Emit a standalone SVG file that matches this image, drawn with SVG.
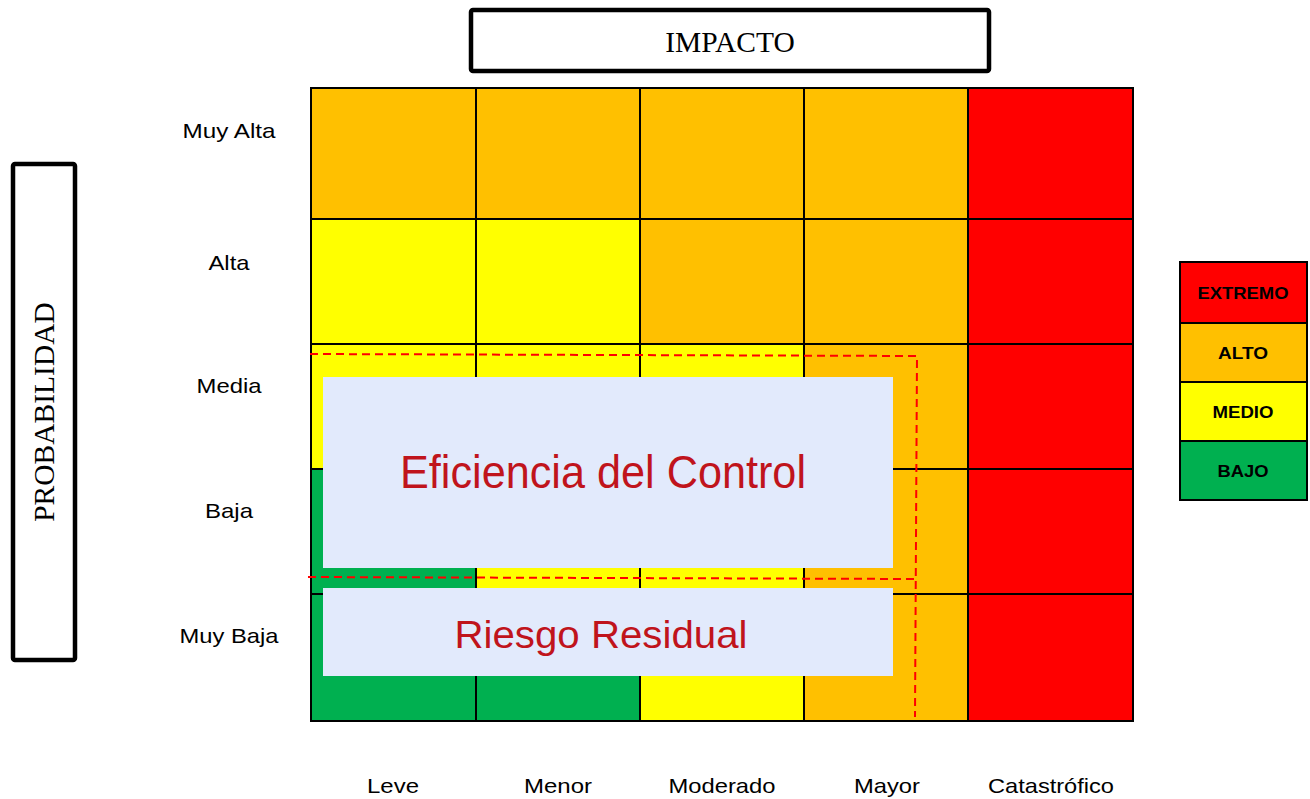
<svg xmlns="http://www.w3.org/2000/svg" width="1310" height="799" viewBox="0 0 1310 799">
<style>
.o{fill:#FFC000}.y{fill:#FFFF00}.r{fill:#FF0000}.g{fill:#00B050}
.gl{stroke:#000;stroke-width:2;fill:none}
.lbl{font-family:"Liberation Sans",Arial,sans-serif;font-size:21px;fill:#000;text-anchor:middle}
.leg{font-family:"Liberation Sans",Arial,sans-serif;font-size:16.5px;font-weight:bold;fill:#000;text-anchor:middle}
.ttl{font-family:"Liberation Serif","Times New Roman",serif;font-size:29.5px;fill:#000;text-anchor:middle}
.ov{fill:#E2EAFC}
.ovt{font-family:"Liberation Sans",Arial,sans-serif;fill:#C0141C;text-anchor:middle}
.dash{stroke:#FF0000;stroke-width:2;fill:none;stroke-dasharray:8 5}
</style>
<rect width="1310" height="799" fill="#fff"/>
<g id="impacto">
<rect x="471" y="10" width="518" height="61" rx="2" fill="#fff" stroke="#000" stroke-width="4.5"/>
<text class="ttl" x="730" y="52">IMPACTO</text>
</g>
<g id="probabilidad">
<rect x="13" y="164" width="62" height="496" rx="2" fill="#fff" stroke="#000" stroke-width="4.5"/>
<text class="ttl" transform="translate(54,412) rotate(-90)" x="0" y="0">PROBABILIDAD</text>
</g>
<g id="matrix">
<rect class="o" x="311" y="88" width="165" height="131"/>
<rect class="o" x="476" y="88" width="164" height="131"/>
<rect class="o" x="640" y="88" width="164" height="131"/>
<rect class="o" x="804" y="88" width="164" height="131"/>
<rect class="r" x="968" y="88" width="165" height="131"/>
<rect class="y" x="311" y="219" width="165" height="125"/>
<rect class="y" x="476" y="219" width="164" height="125"/>
<rect class="o" x="640" y="219" width="164" height="125"/>
<rect class="o" x="804" y="219" width="164" height="125"/>
<rect class="r" x="968" y="219" width="165" height="125"/>
<rect class="y" x="311" y="344" width="165" height="125"/>
<rect class="y" x="476" y="344" width="164" height="125"/>
<rect class="y" x="640" y="344" width="164" height="125"/>
<rect class="o" x="804" y="344" width="164" height="125"/>
<rect class="r" x="968" y="344" width="165" height="125"/>
<rect class="g" x="311" y="469" width="165" height="125"/>
<rect class="y" x="476" y="469" width="164" height="125"/>
<rect class="y" x="640" y="469" width="164" height="125"/>
<rect class="o" x="804" y="469" width="164" height="125"/>
<rect class="r" x="968" y="469" width="165" height="125"/>
<rect class="g" x="311" y="594" width="165" height="127"/>
<rect class="g" x="476" y="594" width="164" height="127"/>
<rect class="y" x="640" y="594" width="164" height="127"/>
<rect class="o" x="804" y="594" width="164" height="127"/>
<rect class="r" x="968" y="594" width="165" height="127"/>
<path class="gl" d="M311 88H1133V721H311Z M476 88V721 M640 88V721 M804 88V721 M968 88V721 M311 219H1133 M311 344H1133 M311 469H1133 M311 594H1133"/>
</g>
<g id="row-labels">
<text class="lbl" x="229" y="138" textLength="93" lengthAdjust="spacingAndGlyphs">Muy Alta</text>
<text class="lbl" x="229" y="270" textLength="41" lengthAdjust="spacingAndGlyphs">Alta</text>
<text class="lbl" x="229" y="393" textLength="65" lengthAdjust="spacingAndGlyphs">Media</text>
<text class="lbl" x="229" y="518" textLength="48" lengthAdjust="spacingAndGlyphs">Baja</text>
<text class="lbl" x="229" y="643" textLength="99" lengthAdjust="spacingAndGlyphs">Muy Baja</text>
</g>
<g id="col-labels">
<text class="lbl" x="393" y="793" textLength="52" lengthAdjust="spacingAndGlyphs">Leve</text>
<text class="lbl" x="558" y="793" textLength="68" lengthAdjust="spacingAndGlyphs">Menor</text>
<text class="lbl" x="722" y="793" textLength="107" lengthAdjust="spacingAndGlyphs">Moderado</text>
<text class="lbl" x="887" y="793" textLength="66" lengthAdjust="spacingAndGlyphs">Mayor</text>
<text class="lbl" x="1051" y="793" textLength="126" lengthAdjust="spacingAndGlyphs">Catastrófico</text>
</g>
<g id="connectors">
<path class="dash" d="M310 354 L917 356 L915 717"/>
<path class="dash" d="M308 577 L915 579"/>
</g>
<g id="eficiencia">
<rect class="ov" x="323" y="377" width="570" height="191"/>
<text class="ovt" x="603" y="488" font-size="46" textLength="406" lengthAdjust="spacingAndGlyphs">Eficiencia del Control</text>
</g>
<g id="residual">
<rect class="ov" x="323" y="588" width="570" height="88"/>
<text class="ovt" x="601" y="648" font-size="39" textLength="293" lengthAdjust="spacingAndGlyphs">Riesgo Residual</text>
</g>
<g id="legend">
<rect class="r" x="1179" y="261" width="129" height="62"/>
<rect class="o" x="1179" y="323" width="129" height="59"/>
<rect class="y" x="1179" y="382" width="129" height="59"/>
<rect class="g" x="1179" y="441" width="129" height="59"/>
<path class="gl" d="M1180 262H1307V500H1180Z M1180 323H1307 M1180 382H1307 M1180 441H1307"/>
<text class="leg" x="1243" y="299" textLength="91" lengthAdjust="spacingAndGlyphs">EXTREMO</text>
<text class="leg" x="1243" y="359" textLength="50" lengthAdjust="spacingAndGlyphs">ALTO</text>
<text class="leg" x="1243" y="418" textLength="61" lengthAdjust="spacingAndGlyphs">MEDIO</text>
<text class="leg" x="1243" y="477" textLength="51" lengthAdjust="spacingAndGlyphs">BAJO</text>
</g>
</svg>
